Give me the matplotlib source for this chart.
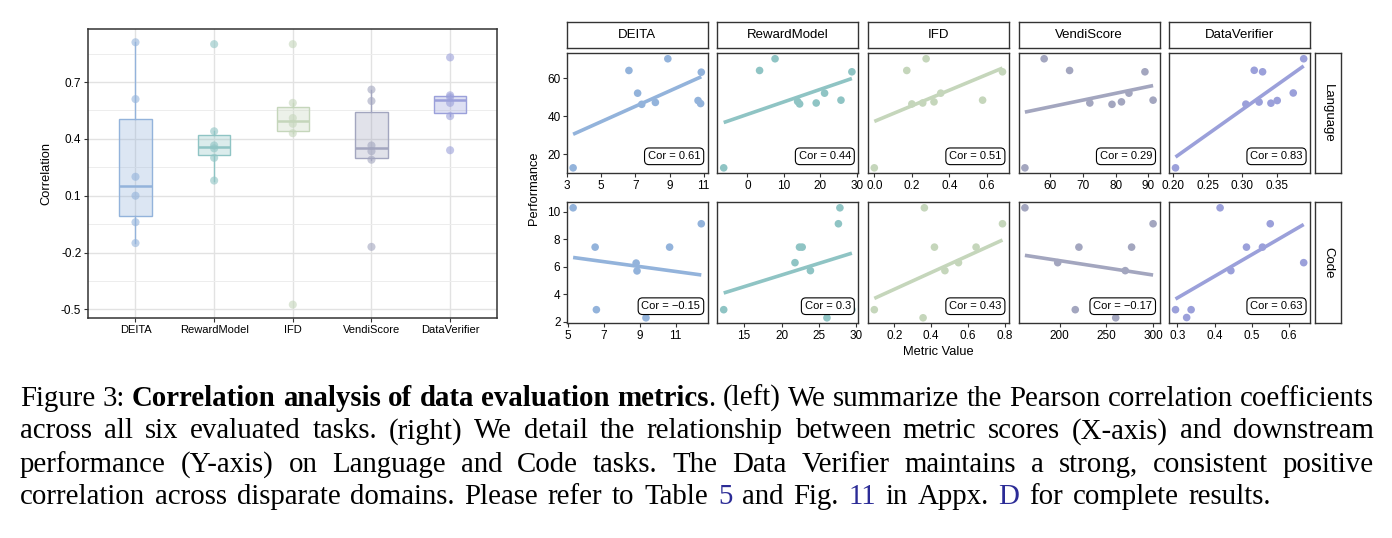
import numpy as np
import matplotlib.pyplot as plt
from matplotlib.colors import to_rgba
from matplotlib.transforms import IdentityTransform

plt.rcParams['font.family'] = ['Liberation Sans', 'DejaVu Sans']

W, H = 1392, 538

metrics = ["DEITA", "RewardModel", "IFD", "VendiScore", "DataVerifier"]
colors = ["#93B3DB", "#8FC4C4", "#C5D6BB", "#A3A6BF", "#9BA0DA"]

# left: Pearson correlation of each metric over the six tasks
corr_deita = [0.91, 0.61, 0.20, 0.10, -0.04, -0.15]
corr_reward = [0.90, 0.44, 0.365, 0.35, 0.30, 0.18]
corr_ifd = [0.90, 0.59, 0.51, 0.48, 0.43, -0.475]
corr_vendi = [0.66, 0.60, 0.365, 0.335, 0.29, -0.17]
corr_dv = [0.83, 0.63, 0.62, 0.59, 0.52, 0.34]
corr_ticks = [-0.5, -0.2, 0.1, 0.4, 0.7]

# right: metric value vs performance, Language row
lang_deita_x = [3.35, 6.62, 8.9, 7.13, 7.37, 8.17, 10.86, 10.67, 10.82]
lang_deita_y = [12.7, 64.2, 70.4, 52.2, 46.3, 47.3, 63.3, 48.3, 46.7]
lang_reward_x = [-6.5, 3.35, 7.6, 28.7, 13.8, 14.35, 18.9, 21.2, 25.7]
lang_reward_y = [12.7, 64.2, 70.4, 63.5, 47.8, 46.5, 47.0, 52.2, 48.5]
lang_ifd_x = [0.0, 0.173, 0.276, 0.2, 0.258, 0.318, 0.354, 0.577, 0.683]
lang_ifd_y = [12.7, 64.2, 70.4, 46.5, 47.0, 47.6, 52.2, 48.5, 63.5]
lang_vendi_x = [52.2, 58.1, 65.9, 72.1, 78.9, 81.8, 84.1, 89.0, 91.5]
lang_vendi_y = [12.7, 70.4, 64.2, 47.0, 46.3, 47.6, 52.2, 63.5, 48.5]
lang_dv_x = [0.204, 0.317, 0.329, 0.388, 0.305, 0.324, 0.341, 0.35, 0.373]
lang_dv_y = [12.7, 64.3, 63.5, 70.4, 46.4, 47.5, 46.9, 48.3, 52.3]

# Code row (last point of the first four panels sits under the Cor label)
code_deita_x = [5.28, 6.51, 6.58, 8.8, 8.85, 9.35, 10.67, 12.44, 11.7]
code_deita_y = [10.27, 7.41, 2.86, 6.25, 5.68, 2.27, 7.41, 9.11, 2.86]
code_reward_x = [12.28, 21.8, 22.4, 22.76, 23.86, 26.07, 27.6, 27.8, 29.4]
code_reward_y = [2.86, 6.28, 7.41, 7.41, 5.7, 2.27, 9.11, 10.27, 2.86]
code_ifd_x = [0.09, 0.363, 0.356, 0.418, 0.475, 0.549, 0.645, 0.789, 0.59]
code_ifd_y = [2.86, 10.27, 2.27, 7.41, 5.7, 6.28, 7.41, 9.11, 2.86]
code_vendi_x = [162.8, 197.9, 220.6, 216.7, 260.0, 270.2, 277.0, 300.0, 245.0]
code_vendi_y = [10.27, 6.28, 7.41, 2.86, 2.27, 5.7, 7.41, 9.11, 2.86]
code_dv_x = [0.295, 0.325, 0.337, 0.415, 0.444, 0.486, 0.529, 0.55, 0.64]
code_dv_y = [2.86, 2.29, 2.86, 10.27, 5.7, 7.41, 7.41, 9.11, 6.28]

lang_cor = ["0.61", "0.44", "0.51", "0.29", "0.83"]
code_cor = ["\u22120.15", "0.3", "0.43", "\u22120.17", "0.63"]

lang_yticks = [20, 40, 60]
code_yticks = [2, 4, 6, 8, 10]
lang_xticks = [[3, 5, 7, 9, 11], [0, 10, 20, 30], [0.0, 0.2, 0.4, 0.6],
               [60, 70, 80, 90], [0.20, 0.25, 0.30, 0.35]]
code_xticks = [[5, 7, 9, 11], [15, 20, 25, 30], [0.2, 0.4, 0.6, 0.8],
               [200, 250, 300], [0.3, 0.4, 0.5, 0.6]]
lang_xfmt = ["%d", "%d", "%.1f", "%d", "%.2f"]
code_xfmt = ["%d", "%d", "%.1f", "%d", "%.1f"]

caption = [
    [("Figure 3: ", "n"), ("Correlation analysis of data evaluation metrics", "b"),
     (". (left) We summarize the Pearson correlation coefficients", "n")],
    [("across all six evaluated tasks. (right) We detail the relationship between "
      "metric scores (X-axis) and downstream", "n")],
    [("performance (Y-axis) on Language and Code tasks.  The Data Verifier maintains "
      "a strong, consistent positive", "n")],
    [("correlation across disparate domains. Please refer to Table ", "n"), ("5", "l"),
     (" and Fig. ", "n"), ("11", "l"), (" in Appx. ", "n"), ("D", "l"),
     (" for complete results.", "n")],
]

DARK = "#333333"
LINK = "#2B2B96"

fig = plt.figure(figsize=(W / 100, H / 100), dpi=100)


def px_axes(x0, y0, x1, y1):
    return fig.add_axes([x0 / W, 1 - y1 / H, (x1 - x0) / W, (y1 - y0) / H])


def style_frame(ax, lw=1.0):
    for sp in ax.spines.values():
        sp.set_color(DARK)
        sp.set_linewidth(lw)


# ---- left: box plot ----
axL = px_axes(88.3, 29, 497.3, 317.7)
data = [corr_deita, corr_reward, corr_ifd, corr_vendi, corr_dv]
pos = np.arange(1, len(metrics) + 1)
bp = axL.boxplot(data, positions=pos, widths=0.41, patch_artist=True,
                 showfliers=False, showcaps=False, whis=1.5)
for i, c in enumerate(colors):
    bp['boxes'][i].set(facecolor=to_rgba(c, 0.32), edgecolor=c, linewidth=1.0, zorder=2)
    bp['medians'][i].set(color=c, linewidth=1.8, zorder=2.5)
    for w in bp['whiskers'][2 * i:2 * i + 2]:
        w.set(color=c, linewidth=1.0, zorder=2)
    axL.scatter(np.full(len(data[i]), pos[i]), data[i], s=34, color=c, alpha=0.6,
                edgecolors='none', zorder=3)
axL.set_xlim(0.4, 5.6)
axL.set_ylim(-0.544, 0.98)
axL.set_xticks(pos)
axL.set_xticklabels(metrics, fontsize=8)
axL.set_yticks(corr_ticks)
axL.set_yticklabels(["%.1f" % v for v in corr_ticks], fontsize=8.5)
axL.set_yticks([-0.35, -0.05, 0.25, 0.55, 0.85], minor=True)
axL.grid(which='major', color='#E2E2E2', lw=1.0)
axL.grid(which='minor', axis='y', color='#EDEDED', lw=0.7)
axL.set_axisbelow(True)
axL.tick_params(which='major', length=3, width=0.8, color=DARK, pad=2)
axL.tick_params(which='minor', length=0)
axL.set_ylabel("Correlation", fontsize=9.3, labelpad=6)
style_frame(axL, 1.1)

# ---- right: faceted scatter ----
col_left = [566.7, 717.3, 867.9, 1018.5, 1169.1]
pw = 141
row_y = [(53.3, 173.3), (202.3, 323.3)]
rows = [
    ([lang_deita_x, lang_reward_x, lang_ifd_x, lang_vendi_x, lang_dv_x],
     [lang_deita_y, lang_reward_y, lang_ifd_y, lang_vendi_y, lang_dv_y],
     lang_cor, lang_yticks, lang_xticks, lang_xfmt, "Language"),
    ([code_deita_x, code_reward_x, code_ifd_x, code_vendi_x, code_dv_x],
     [code_deita_y, code_reward_y, code_ifd_y, code_vendi_y, code_dv_y],
     code_cor, code_yticks, code_xticks, code_xfmt, "Code"),
]

for r, (xs, ys, cors, yt, xt, xf, task) in enumerate(rows):
    y0, y1 = row_y[r]
    first = None
    for j in range(len(metrics)):
        ax = px_axes(col_left[j], y0, col_left[j] + pw, y1)
        if first is None:
            first = ax
        else:
            ax.sharey(first)
        x = np.array(xs[j])
        y = np.array(ys[j])
        ax.scatter(x, y, s=30, color=colors[j], edgecolors='none', zorder=3)
        k, b = np.polyfit(x, y, 1)
        xx = np.array([x.min(), x.max()])
        ax.plot(xx, k * xx + b, color=colors[j], lw=2.6, solid_capstyle='butt', zorder=2)
        ax.margins(0.05)
        ax.set_xticks(xt[j])
        ax.set_xticklabels([xf[j] % v for v in xt[j]], fontsize=8.5)
        ax.tick_params(length=3, width=0.8, color=DARK, pad=1.5)
        if j == 0:
            ax.set_yticks(yt)
            ax.set_yticklabels([str(v) for v in yt], fontsize=8.5)
        else:
            ax.tick_params(axis='y', left=False, labelleft=False)
        ax.text(0.948, 0.1, "Cor = " + cors[j], transform=ax.transAxes, ha='right',
                va='bottom', fontsize=8,
                bbox=dict(boxstyle='round,pad=0.3,rounding_size=0.4', fc='white',
                          ec='black', lw=0.8), zorder=5)
        style_frame(ax, 1.0)
        if r == 0:
            st = px_axes(col_left[j], 21.7, col_left[j] + pw, 48.3)
            st.set_xticks([])
            st.set_yticks([])
            st.text(0.5, 0.5, metrics[j], ha='center', va='center', fontsize=9.5)
            style_frame(st, 1.0)
    st = px_axes(1315, y0, 1341, y1)
    st.set_xticks([])
    st.set_yticks([])
    st.text(0.5, 0.5, task, ha='center', va='center', rotation=-90, fontsize=9.5)
    style_frame(st, 1.0)

fig.text(938.3 / W, 1 - 352 / H, "Metric Value", ha='center', va='center', fontsize=9.3)
fig.text(534.3 / W, 1 - 188 / H, "Performance", ha='center', va='center',
         rotation=90, fontsize=9.3)

# ---- caption (justified serif text) ----
renderer = fig.canvas.get_renderer()
SERIF = 'Liberation Serif'


def make_text(txt, st, size, y):
    return fig.text(0, y, txt, transform=IdentityTransform(), fontsize=size,
                    family=SERIF, fontweight='bold' if st == 'b' else 'normal',
                    color=LINK if st == 'l' else 'black', va='baseline', ha='left')


def split_words(segments):
    words = [[]]
    for txt, st in segments:
        parts = txt.split(' ')
        for i, p in enumerate(parts):
            if i > 0:
                words.append([])
            if p:
                words[-1].append((p, st))
    return [w for w in words if w]


def text_width(txt, size):
    t = make_text(txt, 'n', size, 0)
    w = t.get_window_extent(renderer).width
    t.remove()
    return w


X0, X1, X1_LAST = 20, 1374, 1271
last_line = "".join(s for s, _ in caption[-1])
size = 0.965 * 20 * (X1_LAST - X0) / text_width(last_line, 20)

for li, segs in enumerate(caption):
    ybase = H - (405.5 + 33 * li)
    words = split_words(segs)
    arts = []
    widths = []
    for word in words:
        ws = []
        for txt, st in word:
            t = make_text(txt, st, size, ybase)
            ws.append((t, t.get_window_extent(renderer).width))
        arts.append(ws)
        widths.append(sum(w for _, w in ws))
    right = X1 if li < len(caption) - 1 else X1_LAST
    gap = (right - X0 - sum(widths)) / (len(words) - 1)
    x = X0
    for ws in arts:
        for t, w in ws:
            t.set_x(x)
            x += w
        x += gap

fig.savefig("out.png", dpi=100)
